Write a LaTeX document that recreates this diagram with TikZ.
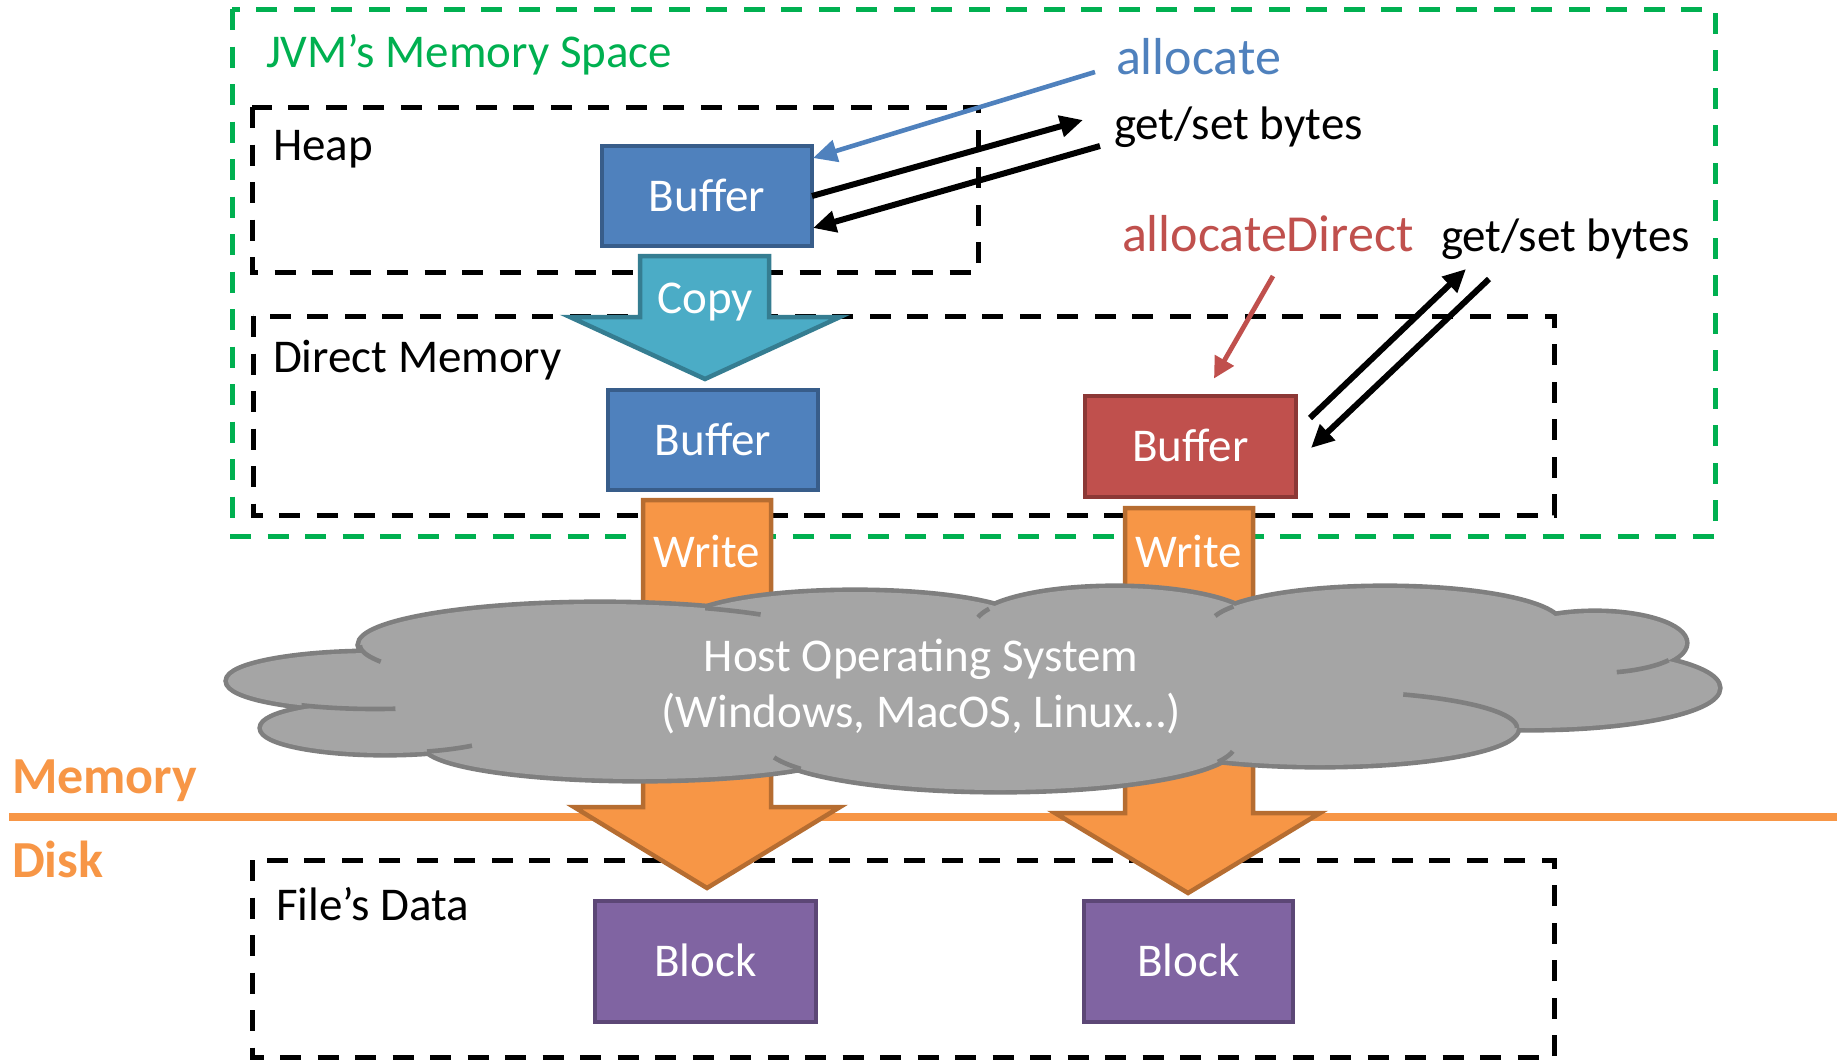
\documentclass[tikz,border=0pt]{standalone}
\usepackage{fontspec}
\setmainfont{Carlito}
\usetikzlibrary{arrows.meta,calc}

\definecolor{jvmgreen}{HTML}{00B050}
\definecolor{bluefill}{HTML}{4F81BD}
\definecolor{blueline}{HTML}{385D8A}
\definecolor{redfill}{HTML}{C0504D}
\definecolor{redline}{HTML}{8C3836}
\definecolor{purplefill}{HTML}{8064A2}
\definecolor{purpleline}{HTML}{5C4776}
\definecolor{orangefill}{HTML}{F79646}
\definecolor{orangeline}{HTML}{B66D31}
\definecolor{tealfill}{HTML}{4BACC6}
\definecolor{tealline}{HTML}{357D91}
\definecolor{cloudfill}{HTML}{A5A5A5}
\definecolor{cloudline}{HTML}{7F7F7F}

\begin{document}
\begin{tikzpicture}[x=0.5pt, y=-0.5pt,
  every node/.style={inner sep=0pt, outer sep=0pt},
  txt/.style={font=\fontsize{23.5pt}{28pt}\selectfont},
  lbl/.style={txt, anchor=base west},
  bigtxt/.style={font=\fontsize{26pt}{31pt}\selectfont, anchor=base west},
  region/.style={line width=2.5pt, dash pattern=on 10.5pt off 8.25pt},
  bufbox/.style={txt, text=white, line width=2.25pt, minimum width=105pt,
    minimum height=50pt, text height=15pt, text depth=0pt},
  blockbox/.style={bufbox, fill=purplefill, draw=purpleline, minimum height=60.5pt},
  blockarrow/.style={line width=2.25pt, line join=miter},
  getset/.style={black, line width=3pt, -{Triangle[length=11.5pt,width=10.5pt]}},
  alloc/.style={bluefill, line width=2.3pt, -{Triangle[length=12pt,width=11pt]}},
  allocd/.style={redfill, line width=2.4pt, -{Triangle[length=10.5pt,width=10.5pt]}},
  cloudedge/.style={cloudline, line width=2.3pt, line cap=butt},
  wtxt/.style={txt, text=white, anchor=base}
]
\useasboundingbox (0,0) rectangle (1837,1061);

% memory spaces (dashed regions)
\draw[region, jvmgreen] (232,9) rectangle (1715,536);
\draw[region] (252,107) rectangle (978,272);
\draw[region] (253,316) rectangle (1554,515);
\draw[region] (252,860) rectangle (1554,1057);

% memory / disk separator
\draw[orangefill, line width=4pt] (9,817) -- (1837,817);

% block arrows
\draw[blockarrow, fill=tealfill, draw=tealline]
  (640,256) -- (769,256) -- (769,317) -- (840,317) -- (705,379) -- (570,317) -- (640,317) -- cycle;
\draw[blockarrow, fill=orangefill, draw=orangeline]
  (643,500) -- (771,500) -- (771,807) -- (840,807) -- (707,888) -- (574,807) -- (643,807) -- cycle;
\draw[blockarrow, fill=orangefill, draw=orangeline]
  (1125,508) -- (1253,508) -- (1253,813) -- (1320,813) -- (1188,893) -- (1055,813) -- (1125,813) -- cycle;
\node[wtxt] (copylbl) at (705,313) {Copy};
\node[wtxt] (writel) at (707,567) {Write};
\node[wtxt] (writer) at (1189,567) {Write};

% host operating system cloud: union of bumps
\def\bumps{600/645/240/41, 855/625/171/33, 1115/625/140/37, 1385/625/175/37,
  1595/643/90/30, 1530/688/188/40, 1320/728/197/37, 1000/745/235/45,
  640/745/215/34, 385/728/123/25, 375/681/147/28}
\foreach \cx/\cy/\rx/\ry in \bumps
  \draw[cloudline, line width=4.6pt] (\cx,\cy) ellipse [x radius=\rx*0.5pt, y radius=\ry*0.5pt];
\foreach \cx/\cy/\rx/\ry in \bumps
  \fill[cloudfill] (\cx,\cy) ellipse [x radius=\rx*0.5pt, y radius=\ry*0.5pt];
\fill[cloudfill] (710,614) -- (993,614) -- (1236,613) -- (1545,622) -- (1655,662)
  -- (1510,722) -- (1220,752) -- (797,760) -- (435,744) -- (315,704) -- (372,658) -- cycle;
% inner folds of the cloud
\draw[cloudedge] plot[domain=156:180, samples=20] ({600+240*cos(\x)},{645+41*sin(\x)});
\draw[cloudedge] plot[domain=-64:-48, samples=20] ({600+240*cos(\x)},{645+41*sin(\x)});
\draw[cloudedge] plot[domain=-168:-154, samples=20] ({1115+140*cos(\x)},{625+37*sin(\x)});
\draw[cloudedge] plot[domain=-166:-150, samples=20] ({1385+175*cos(\x)},{625+37*sin(\x)});
\draw[cloudedge] plot[domain=35:76, samples=20] ({1595+90*cos(\x)},{643+30*sin(\x)});
\draw[cloudedge] plot[domain=-65:0, samples=30] ({1320+197*cos(\x)},{728+37*sin(\x)});
\draw[cloudedge] plot[domain=8:22, samples=20] ({1000+235*cos(\x)},{745+45*sin(\x)});
\draw[cloudedge] plot[domain=148:164, samples=20] ({1000+235*cos(\x)},{745+45*sin(\x)});
\draw[cloudedge] plot[domain=45:70, samples=20] ({385+123*cos(\x)},{728+25*sin(\x)});
\draw[cloudedge] plot[domain=82:120, samples=20] ({375+147*cos(\x)},{681+28*sin(\x)});
\node[wtxt] (hostos) at (921,671) {Host Operating System};
\node[wtxt] (hostlist) at (921,727) {(Windows, MacOS, Linux…)};

% buffers and blocks
\node[bufbox, fill=bluefill, draw=blueline] (hbuf) at (707,196) {Buffer};
\node[bufbox, fill=bluefill, draw=blueline] (mbuf) at (713,440) {Buffer};
\node[bufbox, fill=redfill, draw=redline, minimum width=105.5pt, minimum height=50.5pt] (dbuf) at (1190.5,446.5) {Buffer};
\node[blockbox, minimum width=110.5pt] (blkl) at (705.5,961.5) {Block};
\node[blockbox, minimum width=104.5pt] (blkr) at (1188.5,961.5) {Block};

% region labels
\node[lbl, text=jvmgreen] (jvmlbl) at (266,67) {JVM’s Memory Space};
\node[lbl] (heaplbl) at (273,160) {Heap};
\node[lbl] (directlbl) at (273,372) {Direct Memory};
\node[lbl] (filelbl) at (276,920) {File’s Data};
\node[bigtxt, text=orangefill, font=\fontsize{26pt}{31pt}\selectfont\bfseries] (memlbl) at (12,793) {Memory};
\node[bigtxt, text=orangefill, font=\fontsize{26pt}{31pt}\selectfont\bfseries] (disklbl) at (12,877) {Disk};

% operation labels
\node[bigtxt, text=bluefill] (alloclbl) at (1116,74) {allocate};
\node[lbl] (gs1lbl) at (1114,139) {get/set bytes};
\node[bigtxt, text=redfill] (allocdlbl) at (1122,251) {allocateDirect};
\node[lbl] (gs2lbl) at (1441,251) {get/set bytes};

% connectors
\coordinate (allocfrom) at (1095,72);
\coordinate (gs1to) at (1083,120);
\coordinate (gs1from) at (1100,146);
\coordinate (allocdfrom) at (1273,276);
\coordinate (gs2to) at (1466,269);
\coordinate (gs2from) at (1489,279);

\draw[alloc] (allocfrom) -- ($(hbuf.east)+(1,-38)$);
\draw[getset] (hbuf.east) -- (gs1to);
\draw[getset] (gs1from) -- ($(hbuf.east)+(1,32)$);
\draw[allocd] (allocdfrom) -- ($(dbuf.north)+(23.5,-17.5)$);
\draw[getset] ($(dbuf.east)+(14,-28.5)$) -- (gs2to);
\draw[getset] (gs2from) -- ($(dbuf.east)+(15,1.5)$);
\end{tikzpicture}
\end{document}
